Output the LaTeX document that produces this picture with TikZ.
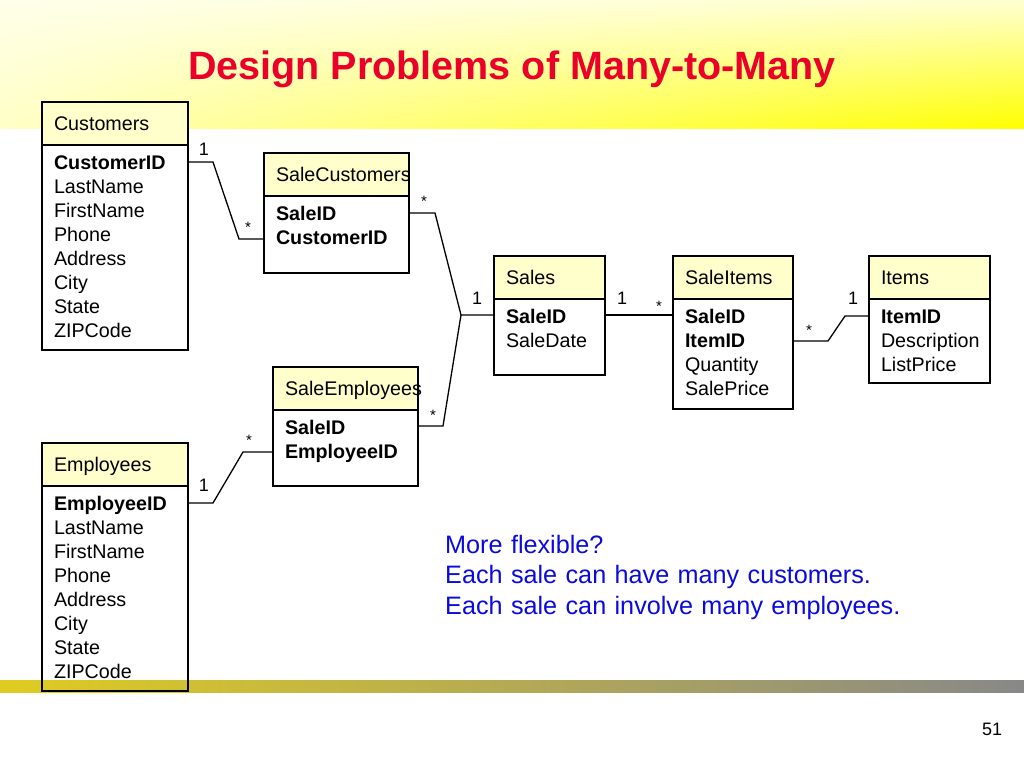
\documentclass[tikz,border=0pt]{standalone}
\usepackage{fontspec}
\setmainfont{Liberation Sans}
\usepackage{tikz}
\usetikzlibrary{positioning,shadings}
\hyphenpenalty=10000
\exhyphenpenalty=10000
\definecolor{hdr}{RGB}{255, 255, 204}
\definecolor{titlered}{RGB}{235, 0, 41}
\definecolor{noteblue}{RGB}{10, 10, 220}
\definecolor{barleft}{RGB}{224, 204, 32}
\definecolor{barright}{RGB}{136, 136, 136}
\tikzstyle{thead} = [draw=black, line width=1.3pt, fill=hdr, anchor=north west, outer sep=0pt, inner xsep=12pt, inner ysep=0pt, align=left, minimum height=43pt, text height=14.5pt, text depth=0pt, font=\fontsize{19.7}{24}\selectfont]
\tikzstyle{tbody} = [draw=black, line width=1.3pt, outer sep=0pt, inner xsep=12pt, inner ysep=9pt, align=left, text height=15pt, font=\fontsize{19.7}{24}\selectfont]
\tikzstyle{tline} = [draw, line width=1.3pt]
\tikzstyle{one} = [anchor=base, inner sep=0pt, font=\fontsize{18}{18}\selectfont]
\tikzstyle{many} = [anchor=base, inner sep=0pt, font=\fontsize{15}{15}\selectfont]
\tikzstyle{title} = [anchor=base, inner sep=0pt, text=titlered, font=\fontsize{39.5}{44}\selectfont\bfseries]
\tikzstyle{note} = [anchor=base west, inner sep=0pt, text width=500pt, align=left, text=noteblue, font=\fontsize{25.2}{30.5}\selectfont]

\begin{document}
\begin{tikzpicture}[x=1pt, y=-1pt]
\useasboundingbox (0,0) rectangle (1024,768);

% background =============================
\shade[upper left=yellow!8, upper right=yellow!18, lower left=yellow!22, lower right=yellow] (0,0) rectangle (1024,128);
\shade[left color=barleft, right color=barright] (0,680) rectangle (1024,692);
\node[title] (title) at (512,79) {Design Problems of Many-to-Many};
\node[one] (pnum) at (992,735) {51};

% tables =============================

% customers and employees
\node[thead, text width=122pt] (custh) at (42,102) {Customers};
\node[tbody, text width=122pt, text depth=172pt, below=0pt of custh] (custb) {\textbf{CustomerID}\\LastName\\FirstName\\Phone\\Address\\City\\State\\ZIPCode};
\node[thead, text width=122pt, below=93pt of custb] (emph) {Employees};
\node[tbody, text width=122pt, text depth=172pt, below=0pt of emph] (empb) {\textbf{EmployeeID}\\LastName\\FirstName\\Phone\\Address\\City\\State\\ZIPCode};

% link tables
\node[thead, text width=121pt] (salecusth) at (264,153) {SaleCustomers};
\node[tbody, text width=121pt, text depth=44pt, below=0pt of salecusth] (salecustb) {\textbf{SaleID}\\\textbf{CustomerID}};
\node[thead, text width=121pt] (saleemph) at (273,367) {SaleEmployees};
\node[tbody, text width=121pt, text depth=43pt, below=0pt of saleemph] (saleempb) {\textbf{SaleID}\\\textbf{EmployeeID}};

% sales, items
\node[thead, text width=87pt] (salesh) at (494,256) {Sales};
\node[tbody, text width=87pt, text depth=43pt, below=0pt of salesh] (salesb) {\textbf{SaleID}\\SaleDate};
\node[thead, text width=96pt, right=68pt of salesh] (saleitemh) {SaleItems};
\node[tbody, text width=96pt, text depth=77pt, below=0pt of saleitemh] (saleitemb) {\textbf{SaleID}\\\textbf{ItemID}\\Quantity\\SalePrice};
\node[thead, text width=97pt, right=76pt of saleitemh] (itemh) {Items};
\node[tbody, text width=97pt, text depth=51pt, below=0pt of itemh] (itemb) {\textbf{ItemID}\\Description\\ListPrice};

% note
\node[note] (note) at (445,553) {More flexible?\\Each sale can have many customers.\\Each sale can involve many employees.};

% bends
\coordinate (cb1) at (213,162);
\coordinate (cb2) at (239,239);
\coordinate (sb1) at (435,213);
\coordinate (jn) at (461,315);
\coordinate (eb1) at (443,426);
\coordinate (eb2) at (213,503);
\coordinate (eb3) at (243,452);
\coordinate (ib1) at (828,341);
\coordinate (ib2) at (845,316);

%edges
\path[tline] (custb.east |- cb1) -- (cb1) -- (cb2) -- (salecustb.west |- cb2);
\path[tline] (salecustb.east |- sb1) -- (sb1) -- (jn) -- (salesb.west |- jn);
\path[tline] (saleempb.east |- eb1) -- (eb1) -- (jn);
\path[tline] (empb.east |- eb2) -- (eb2) -- (eb3) -- (saleempb.west |- eb3);
\path[tline] (salesb.east |- jn) -- (saleitemb.west |- jn);
\path[tline] (saleitemb.east |- ib1) -- (ib1) -- (ib2) -- (itemb.west |- ib2);

% multiplicities
\node[one] (m1) at (204,155) {1};
\node[many] (m2) at (248,232) {*};
\node[many] (m3) at (424,206) {*};
\node[one] (m4) at (477,304) {1};
\node[many] (m5) at (433,420) {*};
\node[many] (m6) at (249,445) {*};
\node[one] (m7) at (204,491) {1};
\node[one] (m8) at (622,304) {1};
\node[many] (m9) at (659,311) {*};
\node[many] (m10) at (809,335) {*};
\node[one] (m11) at (853,304) {1};

\end{tikzpicture}
\end{document}
